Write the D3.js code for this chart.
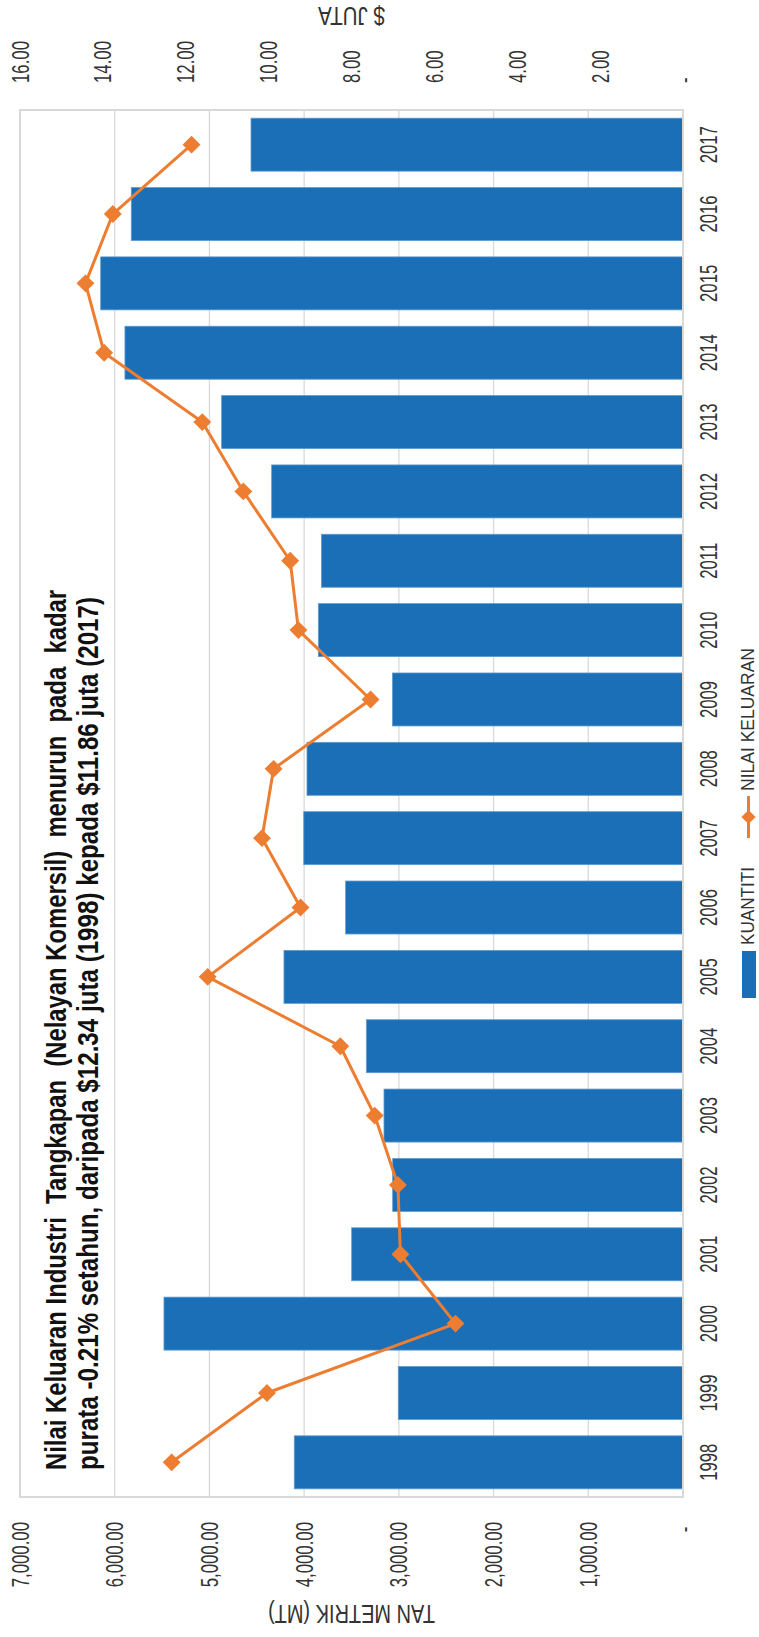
<!DOCTYPE html>
<html><head><meta charset="utf-8">
<script src="https://cdn.jsdelivr.net/npm/d3@7"></script>
<style>
body{margin:0;background:#fff}
svg{display:block}
text{font-family:"Liberation Sans",Arial,Helvetica,sans-serif}
</style>
</head><body>
<svg id="chart" width="759" height="1637"></svg>
<script>
// ---- data ----
const years = [1998,1999,2000,2001,2002,2003,2004,2005,2006,2007,2008,2009,2010,2011,2012,2013,2014,2015,2016,2017];
const kuantiti = [4104,3006,5480,3498,3065,3157,3343,4213,3562,4004,3970,3067,3850,3817,4343,4871,5892,6148,5825,4561];
const nilaiKeluaran = [12.34,10.04,5.49,6.82,6.88,7.44,8.27,11.47,9.23,10.16,9.88,7.54,9.28,9.48,10.61,11.60,13.97,14.42,13.76,11.86];
const leftTicks = [0,1000,2000,3000,4000,5000,6000,7000];
const rightTicks = [0,2,4,6,8,10,12,14,16];
const titleLines = [
  "Nilai Keluaran Industri  Tangkapan  (Nelayan Komersil)  menurun  pada  kadar",
  "purata -0.21% setahun, daripada $12.34 juta (1998) kepada $11.86 juta (2017)"
];
const leftTitle = "TAN METRIK (MT)";
const rightTitle = "$ JUTA";
const legendLabels = ["KUANTITI", "NILAI KELUARAN"];

// ---- layout ----
const svg = d3.select("#chart");
const P = {left:20, right:683, top:110, bottom:1497};
const barColor = "#1B6FB6", lineColor = "#ED7D31", gridColor = "#D9D9D9", txt = "#333";

const xL = d3.scaleLinear().domain([0,7000]).range([P.right, P.left]);
const xR = d3.scaleLinear().domain([0,16]).range([P.right, P.left]);
const y = d3.scaleBand().domain(years).range([P.bottom, P.top]).paddingInner(0.236).paddingOuter(0.118);
const bw = y.bandwidth();

// gridlines
svg.append("g").selectAll("line").data(leftTicks).join("line")
  .attr("x1", d=>xL(d)).attr("x2", d=>xL(d))
  .attr("y1", P.top).attr("y2", P.bottom)
  .attr("stroke", gridColor).attr("stroke-width", 1.3);

// bars
const data = years.map((yr,i)=>({year:yr, q:kuantiti[i], v:nilaiKeluaran[i]}));
svg.append("g").selectAll("rect").data(data).join("rect")
  .attr("x", d=>xL(d.q)).attr("width", d=>xL(0)-xL(d.q))
  .attr("y", d=>y(d.year)).attr("height", bw)
  .attr("fill", barColor).attr("stroke", "#5E9AD2").attr("stroke-width", 0.8);

// frame
svg.append("rect").attr("x", P.left).attr("y", P.top)
  .attr("width", P.right-P.left).attr("height", P.bottom-P.top)
  .attr("fill","none").attr("stroke", gridColor).attr("stroke-width", 2);

// line
const line = d3.line().x(d=>xR(d.v)).y(d=>y(d.year)+bw/2);
svg.append("path").datum(data).attr("d", line)
  .attr("fill","none").attr("stroke", lineColor).attr("stroke-width", 3).attr("stroke-linejoin","round");
const diamond = d3.symbol().type(d3.symbolSquare).size(160);
svg.append("g").selectAll("path").data(data).join("path")
  .attr("d", diamond)
  .attr("transform", d=>`translate(${xR(d.v)},${y(d.year)+bw/2}) rotate(45)`)
  .attr("fill", lineColor);

// bottom axis (left value axis, rotated)
const axB = svg.append("g").attr("transform", `translate(0,1522)`)
  .call(d3.axisBottom(xL).tickValues(leftTicks).tickSize(0)
    .tickFormat(d=> d===0 ? "- " : d3.format(",.2f")(d)));
axB.select(".domain").remove();
axB.selectAll("text").attr("x",0).attr("y",0).attr("dy","0.35em")
  .attr("text-anchor","end").attr("transform","rotate(-90) scale(0.73,1)")
  .attr("font-size", 23).attr("fill", txt).style("white-space","pre");

// top axis (right value axis, rotated)
const axT = svg.append("g").attr("transform", `translate(0,83)`)
  .call(d3.axisTop(xR).tickValues(rightTicks).tickSize(0)
    .tickFormat(d=> d===0 ? "-" : d3.format(".2f")(d)));
axT.select(".domain").remove();
axT.selectAll("text").attr("x",0).attr("y",0).attr("dy","0.35em")
  .attr("text-anchor","start").attr("transform","rotate(-90) scale(0.73,1)")
  .attr("font-size", 23).attr("fill", txt);

// category axis (years)
const axY = svg.append("g").attr("transform", `translate(717,0)`)
  .call(d3.axisRight(y).tickSize(0));
axY.select(".domain").remove();
axY.selectAll("text").attr("x",0).attr("y",0).attr("dy",0)
  .attr("text-anchor","middle").attr("transform","rotate(-90) scale(0.71,1)")
  .attr("font-size", 23.5).attr("fill", txt);

// axis titles (upside down)
svg.append("text").attr("transform", `translate(${(P.left+P.right)/2},1605) rotate(180)`)
  .attr("text-anchor","middle").attr("font-size",25).attr("fill",txt)
  .attr("textLength",167).attr("lengthAdjust","spacingAndGlyphs").text(leftTitle);
svg.append("text").attr("transform", `translate(${(P.left+P.right)/2},7) rotate(180)`)
  .attr("text-anchor","middle").attr("font-size",25).attr("fill",txt)
  .attr("textLength",67).attr("lengthAdjust","spacingAndGlyphs").text(rightTitle);

// title
const titleBase = [66, 98];
const titleLen = [880, 873];
titleLines.forEach((t,i)=>{
  svg.append("text").attr("transform", `translate(${titleBase[i]},1470) rotate(-90)`)
    .attr("text-anchor","start").attr("font-size",30).attr("font-weight","bold").attr("fill","#111")
    .attr("textLength", titleLen[i]).attr("lengthAdjust","spacingAndGlyphs")
    .style("white-space","pre").text(t);
});

// legend
const lg = svg.append("g");
lg.append("rect").attr("x",742).attr("y",951).attr("width",14).attr("height",47).attr("fill",barColor);
lg.append("text").attr("transform","translate(754,945) rotate(-90)")
  .attr("font-size",19).attr("fill",txt).attr("textLength",78).attr("lengthAdjust","spacingAndGlyphs")
  .text(legendLabels[0]);
lg.append("line").attr("x1",748.5).attr("x2",748.5).attr("y1",838).attr("y2",796)
  .attr("stroke",lineColor).attr("stroke-width",3);
lg.append("path").attr("d", d3.symbol().type(d3.symbolSquare).size(100)())
  .attr("transform","translate(748.5,817) rotate(45)").attr("fill",lineColor);
lg.append("text").attr("transform","translate(754,791) rotate(-90)")
  .attr("font-size",19).attr("fill",txt).attr("textLength",143).attr("lengthAdjust","spacingAndGlyphs")
  .text(legendLabels[1]);
</script>
</body></html>
